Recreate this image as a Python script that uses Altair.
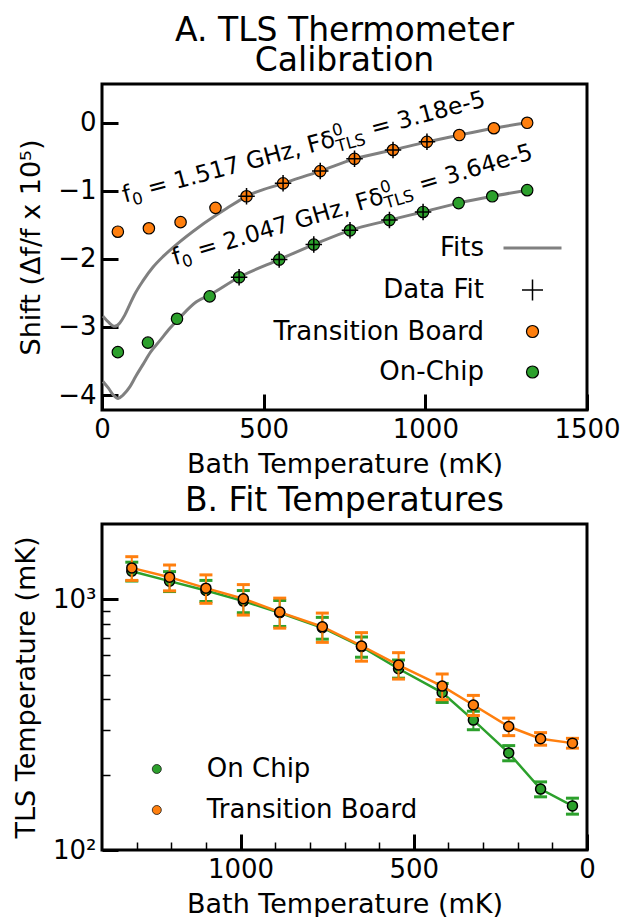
import altair as alt
import pandas as pd

FONT = "DejaVu Sans"
ORANGE = "#ff7f0e"
GREEN = "#2ca02c"
GRAY = "#808080"
PLUS = "M-1,0L1,0M0,-1L0,1"

# ---------------- Panel A data ----------------
tb_bath = [49, 145, 243, 351, 447, 560, 675, 781, 900, 1005, 1105, 1212, 1315]
tb_shift = [-1.60, -1.55, -1.46, -1.25, -1.08, -0.89, -0.71, -0.53, -0.40, -0.28, -0.18, -0.08, 0.0]
oc_bath = [49, 142, 232, 333, 424, 548, 655, 767, 889, 993, 1103, 1207, 1315]
oc_shift = [-3.37, -3.23, -2.88, -2.55, -2.27, -2.01, -1.79, -1.58, -1.43, -1.31, -1.18, -1.08, -0.99]
fit_used = [0, 0, 0, 0, 1, 1, 1, 1, 1, 1, 0, 0, 0]

tb_fit_t = [3, 20, 39, 55, 70, 85, 100, 127, 158, 190, 230, 300, 385, 447, 560, 675, 781, 900, 1005, 1105, 1212, 1315]
tb_fit_s = [-2.84, -2.93, -2.99, -2.94, -2.83, -2.68, -2.53, -2.32, -2.12, -1.96, -1.79, -1.53, -1.26, -1.08,
            -0.89, -0.71, -0.53, -0.40, -0.28, -0.18, -0.08, 0.0]
oc_fit_t = [3, 20, 35, 50, 65, 86, 105, 127, 150, 179, 210, 241, 292, 333, 424, 548, 655, 767, 889, 993, 1103, 1207, 1315]
oc_fit_s = [-3.80, -3.90, -4.00, -4.05, -4.00, -3.88, -3.72, -3.55, -3.37, -3.20, -3.02, -2.86, -2.63, -2.53,
            -2.27, -2.01, -1.79, -1.58, -1.43, -1.31, -1.18, -1.08, -0.99]

a_x_ticks = [0, 500, 1000, 1500]
a_y_ticks = [-4, -3, -2, -1, 0]
legend_a = ["Fits", "Data Fit", "Transition Board", "On-Chip"]

ann_pieces = [
    ["f", "0", " = 1.517 GHz, Fδ", "0", "TLS", " = 3.18e-5"],
    ["f", "0", " = 2.047 GHz, Fδ", "0", "TLS", " = 3.64e-5"],
]
ann_t = [70, 225]
ann_s = [-1.176, -2.094]
ann_angle = [345, 343.5]

# ---------------- Panel B data ----------------
bath_b = [1314, 1205, 1100, 992, 887, 764, 651, 544, 418, 328, 226, 134, 42]
oc_tls = [1296, 1183, 1086, 985, 885, 771, 648, 529, 425, 330, 244, 175, 150]
oc_err = [112, 108, 105, 100, 105, 77, 60, 44, 37, 28, 17, 12, 11]
tb_tls = [1336, 1227, 1109, 1006, 890, 778, 652, 547, 451, 379, 311, 278, 267]
tb_err = [145, 145, 144, 140, 122, 104, 85, 66, 53, 35, 25, 16, 12]
series_b = ["On Chip", "Transition Board"]
b_x_major = [0, 500, 1000]
b_x_minor = [100, 200, 300, 400, 600, 700, 800, 900, 1100, 1200, 1300]
b_y_major = [100, 1000]
b_y_minor = [200, 300, 400, 500, 600, 700, 800, 900]

W, H = 485, 326

# ---------------- Panel A ----------------
xa = alt.Scale(domain=[0, 1500], nice=False, zero=False)
ya = alt.Scale(domain=[-4.22, 0.57], nice=False, zero=False)
NOAX = None

ax_a_x = alt.Axis(values=a_x_ticks, title="Bath Temperature (mK)", orient="bottom", offset=-16, tickSize=16,
                  tickWidth=3, domain=False, grid=False, labelPadding=6, labelFlush=False, labelOverlap=False,
                  titlePadding=9, format="d")
ax_a_y = alt.Axis(values=a_y_ticks, title="Shift (Δf/f x 10⁵)", orient="left", offset=-16, tickSize=16,
                  tickWidth=3, domain=False, grid=False, labelPadding=6, labelFlush=False, labelOverlap=False,
                  titlePadding=12, format="d")

fits_df = pd.concat([
    pd.DataFrame({"t": tb_fit_t, "s": tb_fit_s, "curve": "tb"}),
    pd.DataFrame({"t": oc_fit_t, "s": oc_fit_s, "curve": "oc"}),
])
fits = alt.Chart(fits_df).mark_line(color=GRAY, strokeWidth=3, interpolate="monotone").encode(
    x=alt.X("t:Q", scale=xa, axis=ax_a_x),
    y=alt.Y("s:Q", scale=ya, axis=ax_a_y),
    detail="curve:N",
)

tb_df = pd.DataFrame({"t": tb_bath, "s": tb_shift, "used": fit_used})
oc_df = pd.DataFrame({"t": oc_bath, "s": oc_shift, "used": fit_used})

def pts(df, color):
    return alt.Chart(df).mark_point(filled=True, fill=color, stroke="black", strokeWidth=1.2, size=130,
                                    opacity=1).encode(
        x=alt.X("t:Q", scale=xa, axis=NOAX), y=alt.Y("s:Q", scale=ya, axis=NOAX))

cross_df = pd.concat([tb_df, oc_df])
crosses = alt.Chart(cross_df).mark_point(shape=PLUS, filled=False, stroke="black", strokeWidth=1.5,
                                         size=272, opacity=1).encode(
    x=alt.X("t:Q", scale=xa, axis=NOAX), y=alt.Y("s:Q", scale=ya, axis=NOAX)
).transform_filter("datum.used == 1")

# annotations composed of pieces (sub/superscripts)
CW = {'f': 0.352, '0': 0.636, '1': 0.636, '2': 0.636, '3': 0.636, '4': 0.636, '5': 0.636, '6': 0.636,
      '7': 0.636, '8': 0.636, '9': 0.636, ' ': 0.318, '=': 0.838, '.': 0.318, ',': 0.318, 'G': 0.775,
      'H': 0.752, 'z': 0.525, 'F': 0.575, 'δ': 0.612, 'T': 0.611, 'L': 0.557, 'S': 0.635, 'e': 0.615, '-': 0.361}

def tw(txt, size):
    return sum(CW.get(c, 0.6) for c in txt) * size

FS = 23.5
SS = 16.5
ann_layers = []
for k in range(2):
    p = ann_pieces[k]
    x1 = tw(p[0], FS)
    x2 = x1 + tw(p[1], SS)
    x3 = x2 + tw(p[2], FS)
    x5 = x3 + max(tw(p[3], SS), tw(p[4], SS)) + 1
    specs = [(p[0], 0.0, 0, FS), (p[1], x1, 5, SS), (p[2], x2, 0, FS), (p[3], x3, -10, SS), (p[4], x3, 6, SS),
             (p[5], x5, 0, FS)]
    adf = pd.DataFrame({"t": [ann_t[k]], "s": [ann_s[k]]})
    for txt, dx, dy, fs in specs:
        lead = len(txt) - len(txt.lstrip(" "))
        ann_layers.append(
            alt.Chart(adf).mark_text(text=txt.lstrip(" "), font=FONT, fontSize=fs, align="left",
                                     baseline="alphabetic", angle=ann_angle[k], dx=dx + lead * CW[' '] * fs,
                                     dy=dy, color="black").encode(
                x=alt.X("t:Q", scale=xa, axis=NOAX), y=alt.Y("s:Q", scale=ya, axis=NOAX))
        )

legend_df = pd.DataFrame({"entry": legend_a, "t": [700] * 4, "s": [-2.0] * 4})
leg_a = alt.Legend(title=None, orient="none", legendX=400, legendY=133.5, labelFont=FONT, labelFontSize=26,
                   labelAlign="right", labelOffset=alt.ExprRef("-79"), labelLimit=500,
                   rowPadding=14.5, symbolOpacity=1, padding=0, columns=1)
legend_layer = alt.Chart(legend_df).mark_point(filled=False).encode(
    x=alt.X("t:Q", scale=xa, axis=NOAX), y=alt.Y("s:Q", scale=ya, axis=NOAX),
    shape=alt.Shape("entry:N", scale=alt.Scale(domain=legend_a, range=["stroke", PLUS, "circle", "circle"]),
                    legend=leg_a),
    fill=alt.Fill("entry:N", scale=alt.Scale(domain=legend_a, range=["transparent", "transparent", ORANGE, GREEN]),
                  legend=leg_a),
    stroke=alt.Stroke("entry:N", scale=alt.Scale(domain=legend_a, range=[GRAY, "black", "black", "black"]),
                      legend=leg_a),
    size=alt.Size("entry:N", scale=alt.Scale(type="ordinal", domain=legend_a, range=[3364, 441, 144, 144]),
                  legend=leg_a),
    strokeWidth=alt.StrokeWidth("entry:N", scale=alt.Scale(type="ordinal", domain=legend_a, range=[3, 1.5, 1.2, 1.2]),
                                legend=leg_a),
).transform_filter("false")

panel_a = alt.layer(fits, pts(tb_df, ORANGE), pts(oc_df, GREEN), crosses, *ann_layers, legend_layer).resolve_axis(
    x="independent", y="independent"
).properties(
    width=W, height=H,
    title=alt.TitleParams(["A. TLS Thermometer", "Calibration"], font=FONT, fontSize=33, fontWeight="normal",
                          lineHeight=30, offset=6, anchor="middle", color="black"),
)

# ---------------- Panel B ----------------
xb = alt.Scale(domain=[0, 1400], reverse=True, nice=False, zero=False)
yb = alt.Scale(type="log", domain=[100, 2000], nice=False)

ax_b_x = alt.Axis(values=b_x_major, title="Bath Temperature (mK)", orient="bottom", offset=-16, tickSize=16,
                  tickWidth=3, domain=False, grid=False, labelPadding=6, labelFlush=False, labelOverlap=False,
                  titlePadding=9, format="d")
ax_b_x_minor = alt.Axis(values=b_x_minor, title=None, orient="bottom", offset=-8, tickSize=8, tickWidth=1.5,
                        domain=False, grid=False, labels=False)
ax_b_y = alt.Axis(values=b_y_major, title="TLS Temperature (mK)", orient="left", offset=-16, tickSize=16,
                  tickWidth=3, domain=False, grid=False, labelPadding=6, labelFlush=False, labelOverlap=False,
                  titlePadding=12, labelExpr="datum.value == 1000 ? '10³' : (datum.value == 100 ? '10²' : '')")
ax_b_y_minor = alt.Axis(values=b_y_minor, title=None, orient="left", offset=-8, tickSize=8, tickWidth=1.5,
                        domain=False, grid=False, labels=False)

b_df = pd.concat([
    pd.DataFrame({"t": bath_b, "T": oc_tls, "err": oc_err, "series": series_b[0]}),
    pd.DataFrame({"t": bath_b, "T": tb_tls, "err": tb_err, "series": series_b[1]}),
])
b_df["lo"] = b_df["T"] - b_df["err"]
b_df["hi"] = b_df["T"] + b_df["err"]

leg_b = alt.Legend(title=None, orient="none", legendX=41.8, legendY=224.5, labelFont=FONT, labelFontSize=26,
                   labelOffset=37, labelLimit=500, clipHeight=41, rowPadding=0, padding=0, symbolType="circle",
                   symbolSize=81, symbolStrokeWidth=0.8, symbolStrokeColor="#1a1a1a", columns=1)

fill_scale = alt.Scale(domain=series_b, range=[GREEN, ORANGE])

b_layers = []
b_layers.append(
    alt.Chart(b_df).mark_point(opacity=0).encode(
        x=alt.X("t:Q", scale=xb, axis=ax_b_x_minor), y=alt.Y("T:Q", scale=yb, axis=ax_b_y_minor))
)
first = True
for s, col in zip(series_b, [GREEN, ORANGE]):
    sub = alt.Chart(b_df).transform_filter(alt.datum.series == s)
    b_layers.append(sub.mark_rule(color=col, strokeWidth=2).encode(
        x=alt.X("t:Q", scale=xb, axis=ax_b_x if first else NOAX),
        y=alt.Y("lo:Q", scale=yb, axis=ax_b_y if first else NOAX), y2="hi:Q"))
    first = False
    for fld in ["lo", "hi"]:
        b_layers.append(sub.mark_tick(color=col, orient="horizontal", size=13, thickness=3, opacity=1).encode(
            x=alt.X("t:Q", scale=xb, axis=NOAX), y=alt.Y(f"{fld}:Q", scale=yb, axis=NOAX)))
    b_layers.append(sub.mark_line(color=col, strokeWidth=2.5).encode(
        x=alt.X("t:Q", scale=xb, axis=NOAX), y=alt.Y("T:Q", scale=yb, axis=NOAX)))
    b_layers.append(sub.mark_point(filled=True, stroke="black", strokeWidth=1.5, size=100, opacity=1).encode(
        x=alt.X("t:Q", scale=xb, axis=NOAX), y=alt.Y("T:Q", scale=yb, axis=NOAX),
        fill=alt.Fill("series:N", scale=fill_scale, legend=leg_b)))

panel_b = alt.layer(*b_layers).resolve_axis(x="independent", y="independent").properties(
    width=W, height=H,
    title=alt.TitleParams("B. Fit Temperatures", font=FONT, fontSize=33, fontWeight="normal", offset=6,
                          anchor="middle", color="black"),
)

chart = alt.vconcat(panel_a, panel_b, spacing=114, bounds="flush").resolve_scale(
    fill="independent", stroke="independent", shape="independent", size="independent", strokeWidth="independent"
).resolve_legend(
    fill="independent", stroke="independent", shape="independent", size="independent", strokeWidth="independent"
).properties(
    padding={"left": 2, "top": 5, "right": 5, "bottom": 5}
).configure_view(stroke="black", strokeWidth=3).configure_axis(
    labelFont=FONT, titleFont=FONT, labelFontSize=26, titleFontSize=27, titleFontWeight="normal",
    labelColor="black", titleColor="black", tickColor="black"
).configure_legend(labelFont=FONT, labelFontSize=26, labelColor="black")

chart.save("out.html", embed_options={"renderer": "svg", "actions": False})
